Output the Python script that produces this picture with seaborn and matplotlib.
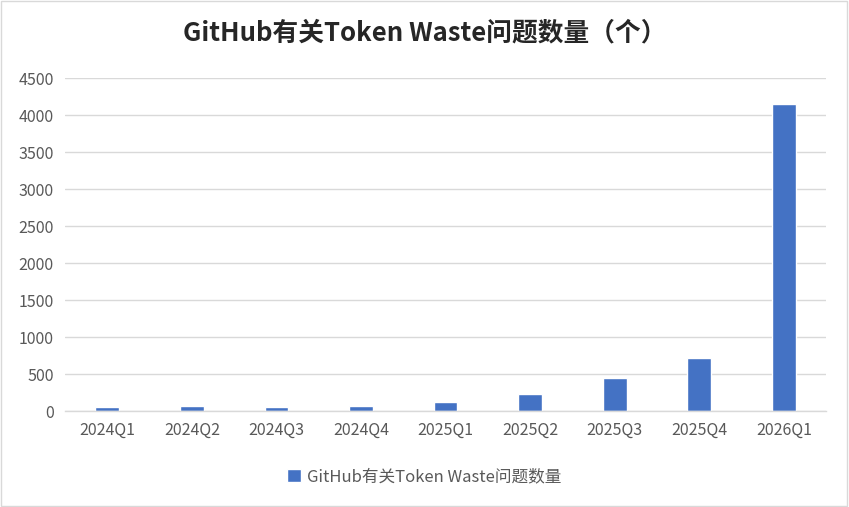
import matplotlib
matplotlib.use("Agg")
import matplotlib.pyplot as plt
import seaborn as sns
import pandas as pd
from matplotlib.patches import Rectangle

quarters = ["2024Q1", "2024Q2", "2024Q3", "2024Q4", "2025Q1",
            "2025Q2", "2025Q3", "2025Q4", "2026Q1"]
issues = [60, 75, 60, 75, 120, 230, 445, 715, 4150]
series_name = "GitHub有关Token Waste问题数量"
title = "GitHub有关Token Waste问题数量（个）"
y_ticks = [0, 500, 1000, 1500, 2000, 2500, 3000, 3500, 4000, 4500]

df = pd.DataFrame({"quarter": quarters, "count": issues, "series": series_name})

sns.set_theme(style="white")
plt.rcParams['font.family'] = ['Noto Sans CJK SC', 'DejaVu Sans']

fig = plt.figure(figsize=(8.49, 5.07), dpi=100)
ax = fig.add_axes([0.0766, 0.189, 0.8964, 0.657])

sns.barplot(data=df, x="quarter", y="count", hue="series", palette=["#4472C4"],
            width=0.28, saturation=1, ax=ax, legend=True)

ax.set_ylim(0, 4500)
ax.set_yticks(y_ticks)
ax.set_xlim(-0.5, len(quarters) - 0.5)
ax.yaxis.grid(True, color="#D9D9D9", linewidth=1)
ax.set_axisbelow(True)
for s in ["top", "right", "left"]:
    ax.spines[s].set_visible(False)
ax.spines["bottom"].set_color("#D9D9D9")
ax.spines["bottom"].set_linewidth(1)
ax.tick_params(axis="both", length=0, labelsize=11.5, colors="#595959", pad=8)
ax.set_xlabel("")
ax.set_ylabel("")

fig.text(0.5, 0.935, title, ha="center", va="center", fontsize=18.5,
         fontweight="bold", color="#262626")

handles, labels = ax.get_legend_handles_labels()
ax.get_legend().remove()
fig.legend(handles, labels, loc="center", bbox_to_anchor=(0.5, 0.06), frameon=False,
           fontsize=12, labelcolor="#595959", handlelength=0.8, handleheight=0.8,
           handletextpad=0.4)

fig.patches.append(Rectangle((0.001, 0.001), 0.997, 0.997, transform=fig.transFigure,
                             fill=False, edgecolor="#D9D9D9", linewidth=1))

fig.savefig("out.png", dpi=100)
